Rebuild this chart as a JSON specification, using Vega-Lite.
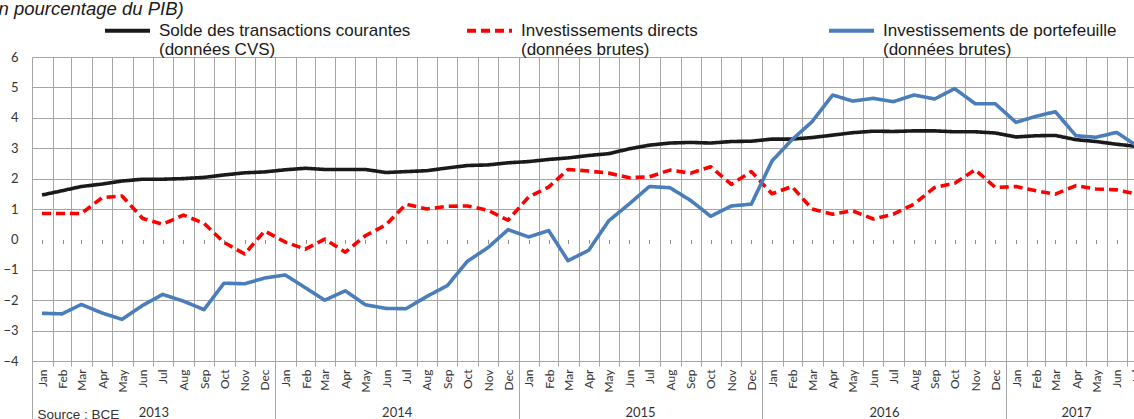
{
  "$schema": "https://vega.github.io/schema/vega-lite/v6.json",
  "width": 1102,
  "height": 304,
  "autosize": {"type": "none"},
  "padding": {"left": 32, "top": 57, "right": 0, "bottom": 58},
  "background": "white",
  "config": {"view": {"stroke": null}, "font": "Liberation Sans"},
  "data": {"values": [
    {"date": "2013-01-16", "solde": 1.46, "ide": 0.85, "ptf": -2.43},
    {"date": "2013-02-15", "solde": 1.60, "ide": 0.85, "ptf": -2.45},
    {"date": "2013-03-16", "solde": 1.74, "ide": 0.85, "ptf": -2.14},
    {"date": "2013-04-16", "solde": 1.82, "ide": 1.37, "ptf": -2.42},
    {"date": "2013-05-16", "solde": 1.92, "ide": 1.43, "ptf": -2.63},
    {"date": "2013-06-16", "solde": 1.98, "ide": 0.69, "ptf": -2.17},
    {"date": "2013-07-16", "solde": 1.98, "ide": 0.50, "ptf": -1.81},
    {"date": "2013-08-16", "solde": 2.00, "ide": 0.80, "ptf": -2.03},
    {"date": "2013-09-16", "solde": 2.04, "ide": 0.53, "ptf": -2.31},
    {"date": "2013-10-16", "solde": 2.12, "ide": -0.10, "ptf": -1.44},
    {"date": "2013-11-16", "solde": 2.19, "ide": -0.48, "ptf": -1.46},
    {"date": "2013-12-16", "solde": 2.22, "ide": 0.28, "ptf": -1.27},
    {"date": "2014-01-16", "solde": 2.29, "ide": -0.09, "ptf": -1.17},
    {"date": "2014-02-15", "solde": 2.34, "ide": -0.32, "ptf": -1.59},
    {"date": "2014-03-16", "solde": 2.30, "ide": 0.01, "ptf": -2.00},
    {"date": "2014-04-16", "solde": 2.30, "ide": -0.42, "ptf": -1.69},
    {"date": "2014-05-16", "solde": 2.30, "ide": 0.12, "ptf": -2.15},
    {"date": "2014-06-16", "solde": 2.20, "ide": 0.48, "ptf": -2.27},
    {"date": "2014-07-16", "solde": 2.23, "ide": 1.16, "ptf": -2.28},
    {"date": "2014-08-16", "solde": 2.26, "ide": 1.00, "ptf": -1.88},
    {"date": "2014-09-16", "solde": 2.35, "ide": 1.09, "ptf": -1.52},
    {"date": "2014-10-16", "solde": 2.43, "ide": 1.10, "ptf": -0.72},
    {"date": "2014-11-16", "solde": 2.45, "ide": 0.96, "ptf": -0.27},
    {"date": "2014-12-16", "solde": 2.52, "ide": 0.63, "ptf": 0.32},
    {"date": "2015-01-16", "solde": 2.56, "ide": 1.40, "ptf": 0.08},
    {"date": "2015-02-15", "solde": 2.63, "ide": 1.72, "ptf": 0.29},
    {"date": "2015-03-16", "solde": 2.68, "ide": 2.30, "ptf": -0.70},
    {"date": "2015-04-16", "solde": 2.76, "ide": 2.25, "ptf": -0.36},
    {"date": "2015-05-16", "solde": 2.82, "ide": 2.18, "ptf": 0.61},
    {"date": "2015-06-16", "solde": 2.98, "ide": 2.03, "ptf": 1.17},
    {"date": "2015-07-16", "solde": 3.10, "ide": 2.06, "ptf": 1.74},
    {"date": "2015-08-16", "solde": 3.17, "ide": 2.28, "ptf": 1.70},
    {"date": "2015-09-16", "solde": 3.19, "ide": 2.18, "ptf": 1.28},
    {"date": "2015-10-16", "solde": 3.17, "ide": 2.39, "ptf": 0.76},
    {"date": "2015-11-16", "solde": 3.22, "ide": 1.81, "ptf": 1.10},
    {"date": "2015-12-16", "solde": 3.23, "ide": 2.23, "ptf": 1.16},
    {"date": "2016-01-16", "solde": 3.30, "ide": 1.50, "ptf": 2.58},
    {"date": "2016-02-15", "solde": 3.30, "ide": 1.74, "ptf": 3.28},
    {"date": "2016-03-16", "solde": 3.35, "ide": 1.00, "ptf": 3.87},
    {"date": "2016-04-16", "solde": 3.43, "ide": 0.83, "ptf": 4.75},
    {"date": "2016-05-16", "solde": 3.51, "ide": 0.94, "ptf": 4.55},
    {"date": "2016-06-16", "solde": 3.56, "ide": 0.67, "ptf": 4.64},
    {"date": "2016-07-16", "solde": 3.55, "ide": 0.83, "ptf": 4.53},
    {"date": "2016-08-16", "solde": 3.57, "ide": 1.16, "ptf": 4.75},
    {"date": "2016-09-16", "solde": 3.57, "ide": 1.71, "ptf": 4.62},
    {"date": "2016-10-16", "solde": 3.54, "ide": 1.85, "ptf": 4.96},
    {"date": "2016-11-16", "solde": 3.54, "ide": 2.29, "ptf": 4.46},
    {"date": "2016-12-16", "solde": 3.50, "ide": 1.71, "ptf": 4.46},
    {"date": "2017-01-16", "solde": 3.37, "ide": 1.74, "ptf": 3.85},
    {"date": "2017-02-15", "solde": 3.41, "ide": 1.60, "ptf": 4.05},
    {"date": "2017-03-16", "solde": 3.42, "ide": 1.49, "ptf": 4.20},
    {"date": "2017-04-16", "solde": 3.28, "ide": 1.77, "ptf": 3.41},
    {"date": "2017-05-16", "solde": 3.22, "ide": 1.66, "ptf": 3.36},
    {"date": "2017-06-16", "solde": 3.13, "ide": 1.63, "ptf": 3.52},
    {"date": "2017-07-16", "solde": 3.06, "ide": 1.49, "ptf": 3.08}
  ]},
  "transform": [{"fold": ["solde", "ide", "ptf"], "as": ["series", "value"]}],
  "layer": [
    {
      "mark": {"type": "line", "clip": true, "strokeWidth": 3.6, "strokeCap": "butt", "strokeJoin": "round"},
      "encoding": {
        "x": {
          "field": "date", "type": "temporal",
          "scale": {"type": "utc", "domain": [{"year": 2013, "month": 1, "date": 1, "utc": true}, {"year": 2017, "month": 7, "date": 12, "utc": true}]},
          "axis": {
            "orient": "bottom", "title": null,
            "grid": true, "gridColor": "#a6a6a6", "gridWidth": 1,
            "tickCount": {"interval": "month", "step": 1},
            "ticks": true, "tickSize": 5, "tickColor": "#a6a6a6",
            "domain": true, "domainColor": "#a6a6a6",
            "labelAngle": -90, "labelAlign": "right", "labelBaseline": "middle",
            "labelOffset": 10, "labelPadding": 3,
            "labelFlush": false, "labelOverlap": false, "labelBound": false,
            "labelExpr": "utcFormat(datum.value, '%b')",
            "labelFont": "Lato", "labelFontSize": 12, "labelColor": "#333333"
          }
        },
        "y": {
          "field": "value", "type": "quantitative",
          "scale": {"domain": [-4, 6], "nice": false, "zero": false},
          "axis": {
            "values": [-4, -3, -2, -1, 0, 1, 2, 3, 4, 5, 6],
            "grid": true, "gridColor": "#a6a6a6", "gridWidth": 1,
            "gridOpacity": {"condition": {"test": "datum.value === 0", "value": 0}, "value": 1},
            "domain": false, "ticks": false, "labelPadding": 14,
            "labelFont": "Lato", "labelFontSize": 13, "labelColor": "#333333",
            "title": "n pourcentage du PIB)", "titleAngle": 0, "titleAlign": "left", "titleBaseline": "alphabetic",
            "titleX": -34, "titleY": -43,
            "titleFont": "Liberation Sans", "titleFontStyle": "italic", "titleFontWeight": "normal",
            "titleFontSize": 18.5, "titleColor": "#1a1a1a"
          }
        },
        "color": {
          "field": "series", "type": "nominal",
          "scale": {"domain": ["solde", "ide", "ptf"], "range": ["#1a1a1a", "#ff0000", "#4a7ebb"]},
          "legend": {
            "orient": "none", "legendX": 71, "legendY": -51, "direction": "horizontal", "columns": 3,
            "gridAlign": "all", "columnPadding": 48, "title": null, "padding": 0,
            "symbolType": "stroke", "symbolSize": 2025, "symbolStrokeWidth": 4,
            "labelFont": "Liberation Sans", "labelFontSize": 17, "labelColor": "#1a1a1a",
            "labelOffset": 7, "labelLimit": 400,
            "labelExpr": "datum.value === 'solde' ? ['Solde des transactions courantes', '(données CVS)'] : datum.value === 'ide' ? ['Investissements directs', '(données brutes)'] : ['Investissements de portefeuille', '(données brutes)']"
          }
        },
        "strokeDash": {
          "field": "series", "type": "nominal",
          "scale": {"domain": ["solde", "ide", "ptf"], "range": [[1, 0], [9, 5], [1, 0]]},
          "legend": {
            "orient": "none", "legendX": 71, "legendY": -51, "direction": "horizontal", "columns": 3,
            "gridAlign": "all", "columnPadding": 48, "title": null, "padding": 0,
            "symbolType": "stroke", "symbolSize": 2025, "symbolStrokeWidth": 4,
            "labelFont": "Liberation Sans", "labelFontSize": 17, "labelColor": "#1a1a1a",
            "labelOffset": 7, "labelLimit": 400,
            "labelExpr": "datum.value === 'solde' ? ['Solde des transactions courantes', '(données CVS)'] : datum.value === 'ide' ? ['Investissements directs', '(données brutes)'] : ['Investissements de portefeuille', '(données brutes)']"
          }
        }
      }
    },
    {
      "mark": {"type": "point", "opacity": 0},
      "encoding": {
        "x": {
          "field": "date", "type": "temporal",
          "axis": {
            "orient": "bottom",
            "values": [
              {"year": 2013, "month": 7, "date": 2, "utc": true},
              {"year": 2014, "month": 7, "date": 2, "utc": true},
              {"year": 2015, "month": 7, "date": 2, "utc": true},
              {"year": 2016, "month": 7, "date": 2, "utc": true},
              {"year": 2017, "month": 4, "date": 16, "utc": true}
            ],
            "ticks": false, "tickSize": 0, "grid": false, "domain": false,
            "labelPadding": 45, "labelBaseline": "top", "labelAlign": "center", "labelAngle": 0,
            "labelFlush": false, "labelOverlap": false, "labelBound": false,
            "labelExpr": "utcFormat(datum.value, '%Y')",
            "labelFont": "Lato", "labelFontSize": 13, "labelColor": "#333333",
            "title": "Source : BCE", "titleAnchor": "start", "titleAlign": "left", "titleAngle": 0,
            "titleX": 5, "titleY": 57, "titleBaseline": "alphabetic",
            "titleFont": "Liberation Sans", "titleFontSize": 13.5, "titleFontWeight": "normal", "titleColor": "#333333"
          }
        }
      }
    },
    {
      "mark": {"type": "point", "opacity": 0},
      "encoding": {
        "x": {
          "field": "date", "type": "temporal",
          "axis": {
            "orient": "bottom", "title": null,
            "values": [
              {"year": 2013, "month": 1, "date": 1, "utc": true},
              {"year": 2014, "month": 1, "date": 1, "utc": true},
              {"year": 2015, "month": 1, "date": 1, "utc": true},
              {"year": 2016, "month": 1, "date": 1, "utc": true},
              {"year": 2017, "month": 1, "date": 1, "utc": true}
            ],
            "ticks": true, "tickSize": 58, "tickColor": "#a6a6a6",
            "labels": false, "grid": false, "domain": false
          }
        }
      }
    },
    {
      "mark": {"type": "point", "opacity": 0},
      "encoding": {
        "x": {
          "field": "date", "type": "temporal",
          "axis": {
            "orient": "bottom", "title": null, "offset": -121.6,
            "tickCount": {"interval": "month", "step": 1}, "tickOffset": 10,
            "ticks": true, "tickSize": 4, "tickColor": "#8c8c8c",
            "labels": false, "grid": false, "domain": false
          }
        }
      }
    }
  ],
  "resolve": {"axis": {"x": "independent"}}
}
